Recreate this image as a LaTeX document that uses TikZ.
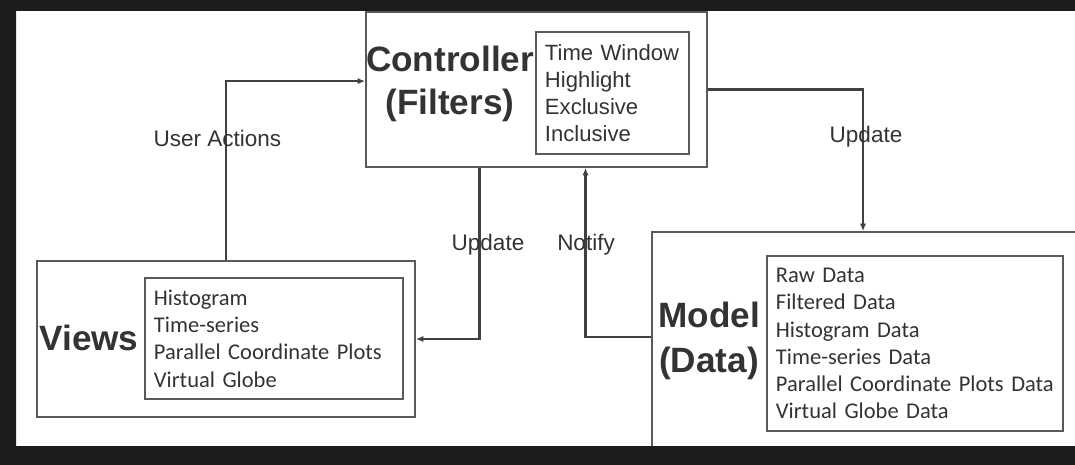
\documentclass[tikz,border=0pt]{standalone}
\usepackage{fontspec}
\setmainfont{Liberation Sans}
\newfontfamily\listfont{Carlito}
\usetikzlibrary{arrows.meta}
\definecolor{ink}{HTML}{333333}
\definecolor{edge}{HTML}{5A5A5A}
\definecolor{frame}{HTML}{1C1C1C}

\begin{document}
\begin{tikzpicture}[x=0.025cm, y=-0.025cm,
  outer/.style={draw=edge, line width=1pt, inner sep=0pt},
  list/.style={draw=edge, line width=1pt, align=left, inner xsep=0.225cm,
    inner ysep=0pt, text=ink},
  title/.style={font=\fontsize{25}{31}\selectfont\bfseries, text=ink, align=center},
  flow/.style={draw=black!75, line width=1.7pt, -{Latex[length=5.5pt,width=4.5pt]}},
  lbl/.style={font=\fontsize{16}{19}\selectfont, text=ink}]
  \clip (0,0) rectangle (1075,465);
  \fill[white] (0,0) rectangle (1075,465);

  % controller
  \node[outer, minimum width=8.525cm, minimum height=3.875cm] (ctrl) at (536.5,89.5) {};
  \node[title] (ctrltitle) at (450,84) {Controller\\(Filters)};
  \node[list, text width=3.375cm, minimum height=3.05cm,
    font=\fontsize{15.7}{19.2}\selectfont] (filters) at (612.5,93)
    {Time Window\\Highlight\\Exclusive\\Inclusive};

  % views
  \node[outer, minimum width=9.45cm, minimum height=3.9cm] (views) at (226,339) {};
  \node[title] (viewstitle) at (89,338) {Views};
  \node[list, text width=6cm, minimum height=3.025cm,
    font=\listfont\fontsize{16}{19.5}\selectfont] (plots) at (274,338.5)
    {Histogram\\Time-series\\Parallel Coordinate Plots\\Virtual Globe};

  % model
  \node[outer, minimum width=10.95cm, minimum height=5.7cm] (model) at (871,346) {};
  \node[title, font=\fontsize{25}{32}\selectfont\bfseries] (modeltitle) at (709,341) {Model\\(Data)};
  \node[list, text width=6.95cm, minimum height=4.375cm,
    font=\listfont\fontsize{16}{19.3}\selectfont] (datasets) at (915,343.5)
    {Raw Data\\Filtered Data\\Histogram Data\\Time-series Data\\Parallel Coordinate Plots Data\\Virtual Globe Data};

  % connectors
  \draw[flow] (views.north) |- ([yshift=0.21cm]ctrl.west);
  \draw[flow] ([xshift=-1.425cm]ctrl.south) |- (views.east);
  \draw[flow] ([yshift=0.225cm]model.west) -| ([xshift=1.225cm]ctrl.south);
  \draw[flow] (ctrl.east) -| ([xshift=-0.2cm]model.north);

  \node[lbl] (useractions) at (217.5,138) {User Actions};
  \node[lbl] (updateviews) at (488,245) {Update};
  \node[lbl] (notify) at (586,245) {Notify};
  \node[lbl] (updatemodel) at (866,137) {Update};

  % dark frame
  \fill[frame, even odd rule] (0,0) rectangle (1075,465) (16,11) rectangle (1090,446);
\end{tikzpicture}
\end{document}
